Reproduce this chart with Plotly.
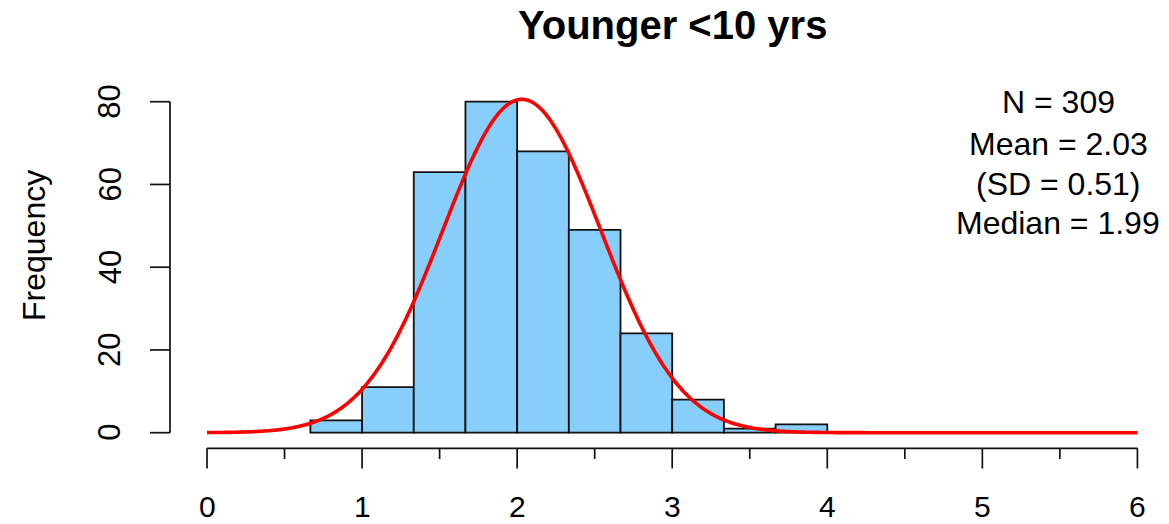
import numpy as np
import plotly.graph_objects as go

# ---------------- data ----------------
bin_edges = [2/3, 1.0, 4/3, 5/3, 2.0, 7/3, 8/3, 3.0, 10/3, 11/3, 4.0]
counts = [3, 11, 63, 80, 68, 49, 24, 8, 1, 2]
n_obs = 309
mean_val = 2.03
sd_val = 0.51
median_val = 1.99
x_ticks = [0, 1, 2, 3, 4, 5, 6]
x_minor_ticks = [0.5, 1.5, 2.5, 3.5, 4.5, 5.5]
y_ticks = [0, 20, 40, 60, 80]
title_text = "Younger <10 yrs"
y_title = "Frequency"
stats_lines = [f"N = {n_obs}", f"Mean = {mean_val:.2f}", f"(SD = {sd_val:.2f})", f"Median = {median_val:.2f}"]

# ---------------- geometry (pixel calibration) ----------------
W, H = 1169, 524
X0_PX, PX_PER_X = 207.0, 155.07
Y0_PX, PX_PER_Y = 432.7, 4.1375
def dx(px):
    return (px - X0_PX) / PX_PER_X
def dy(py):
    return (Y0_PX - py) / PX_PER_Y

FONT = "Liberation Sans, Arial, sans-serif"
BLACK = "#111111"

edges = np.array(bin_edges)
centers = (edges[:-1] + edges[1:]) / 2
widths = edges[1:] - edges[:-1]
bw = float(np.mean(widths))

# normal curve scaled to counts
xc = np.linspace(0, 6, 600)
yc = n_obs * bw * np.exp(-0.5 * ((xc - mean_val) / sd_val) ** 2) / (sd_val * np.sqrt(2 * np.pi))

fig = go.Figure()
fig.add_trace(go.Bar(
    x=centers, y=counts, width=widths,
    marker=dict(color="#87CEFA", line=dict(color=BLACK, width=1.8)),
    hoverinfo="skip", showlegend=False,
))
fig.add_trace(go.Scatter(
    x=xc, y=yc, mode="lines",
    line=dict(color="#FF0000", width=3.6, simplify=False),
    hoverinfo="skip", showlegend=False,
))

shapes = []
ax_y = dy(448.3)
maj_end = dy(468.5)
min_end = dy(459)
lw = 1.7
shapes.append(dict(type="line", xref="x", yref="y", x0=x_ticks[0], x1=x_ticks[-1], y0=ax_y, y1=ax_y,
                   line=dict(color=BLACK, width=lw)))
for t in x_ticks:
    shapes.append(dict(type="line", xref="x", yref="y", x0=t, x1=t, y0=ax_y, y1=maj_end,
                       line=dict(color=BLACK, width=lw)))
for t in x_minor_ticks:
    shapes.append(dict(type="line", xref="x", yref="y", x0=t, x1=t, y0=ax_y, y1=min_end,
                       line=dict(color=BLACK, width=lw)))
ax_x = dx(170)
tick_x = dx(150)
shapes.append(dict(type="line", xref="x", yref="y", x0=ax_x, x1=ax_x, y0=y_ticks[0], y1=y_ticks[-1],
                   line=dict(color=BLACK, width=lw)))
for t in y_ticks:
    shapes.append(dict(type="line", xref="x", yref="y", x0=ax_x, x1=tick_x, y0=t, y1=t,
                       line=dict(color=BLACK, width=lw)))

annotations = []
for t in x_ticks:
    annotations.append(dict(x=t, y=dy(506), xref="x", yref="y", text=str(t), showarrow=False,
                            xanchor="center", yanchor="middle",
                            font=dict(family=FONT, size=30, color="black")))
for t in y_ticks:
    annotations.append(dict(x=dx(110), y=t, xref="x", yref="y", text=str(t), showarrow=False,
                            textangle=-90, xanchor="center", yanchor="middle",
                            font=dict(family=FONT, size=31, color="black")))
annotations.append(dict(x=dx(34), y=dy(246), xref="x", yref="y", text=y_title, showarrow=False,
                        textangle=-90, xanchor="center", yanchor="middle",
                        font=dict(family=FONT, size=32, color="black")))
for line, py in zip(stats_lines, [102, 144, 184, 223]):
    annotations.append(dict(x=dx(1058), y=dy(py), xref="x", yref="y", text=line, showarrow=False,
                            xanchor="center", yanchor="middle",
                            font=dict(family=FONT, size=32, color="black")))
annotations.append(dict(x=dx(672), y=dy(25), xref="x", yref="y", text=f"<b>{title_text}</b>",
                        showarrow=False, xanchor="center", yanchor="middle",
                        font=dict(family=FONT, size=40, color="black")))

fig.update_layout(
    width=W, height=H,
    margin=dict(l=0, r=0, t=0, b=0),
    paper_bgcolor="white", plot_bgcolor="white",
    bargap=0,
    xaxis=dict(range=[dx(0), dx(W)], visible=False, fixedrange=True),
    yaxis=dict(range=[dy(H), dy(0)], visible=False, fixedrange=True),
    shapes=shapes,
    annotations=annotations,
    showlegend=False,
)

fig.write_html(
    "out.html",
    config={"displayModeBar": False, "staticPlot": True},
    post_script="document.body.style.margin='0px';document.body.style.padding='0px';document.body.style.overflow='hidden';",
)
